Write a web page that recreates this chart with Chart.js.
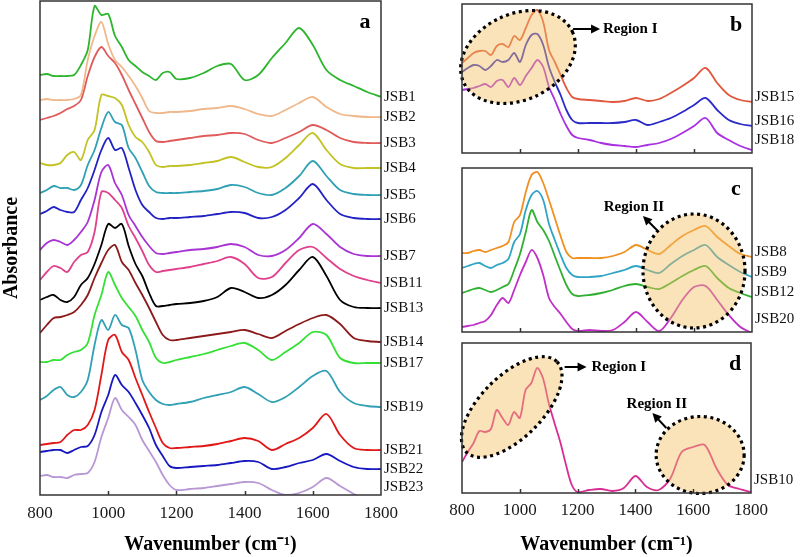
<!DOCTYPE html>
<html>
<head>
<meta charset="utf-8">
<script src="https://cdn.jsdelivr.net/npm/chart.js@4.4.1/dist/chart.umd.min.js"></script>
<style>
  html, body { margin: 0; padding: 0; background: #fff; }
  #wrap { position: relative; width: 800px; height: 557px; }
  #wrap canvas { position: absolute; left: 0; top: 0; }
</style>
</head>
<body>
<div id="wrap">
  <canvas id="chartA" width="800" height="557"></canvas>
  <canvas id="chartB" width="800" height="557"></canvas>
  <canvas id="chartC" width="800" height="557"></canvas>
  <canvas id="chartD" width="800" height="557"></canvas>
</div>
<script>
// wavenumber grid (cm-1) shared by all spectra
const wavenumbers = [800, 820, 840, 860, 880, 900, 920, 940, 960, 980, 1000, 1020, 1040, 1060, 1080, 1100, 1120, 1140, 1160, 1180, 1200,
  1240, 1280, 1320, 1360, 1400, 1440, 1480, 1520, 1560, 1600, 1640, 1680, 1720, 1760, 1800];
const xTicks = [800, 1000, 1200, 1400, 1600, 1800];

// panel a (stacked, arbitrary absorbance units)
const jsb1  = [42.0,42.1,41.9,41.9,41.9,42.0,43.0,44.5,48.9,48.0,48.1,45.9,44.8,43.5,42.9,42.3,41.9,41.5,42.2,42.3,41.6, 41.7,42.2,42.9,43.1,41.5,42.0,43.7,45.2,46.7,45.0,42.5,41.5,40.9,40.3,39.8];
const jsb2  = [39.5,39.6,39.5,39.5,39.5,39.6,40.0,43.5,45.9,47.3,45.1,43.5,42.8,41.9,40.9,39.7,38.4,38.2,38.2,38.3,38.3, 38.4,38.6,38.7,38.9,38.6,38.1,37.9,38.5,39.2,39.8,38.8,38.1,37.9,37.8,37.8];
const jsb3  = [37.5,37.7,37.9,38.2,38.6,38.9,39.5,41.9,43.8,44.8,43.9,43.2,42.0,40.5,39.1,37.7,36.3,35.4,35.3,35.4,35.5, 35.7,35.9,36.0,36.2,36.1,35.5,35.2,35.7,36.3,37.0,36.5,35.7,35.3,35.2,35.2];
const jsb4  = [33.2,33.0,33.0,33.2,34.0,34.3,33.5,35.5,36.5,40.0,39.9,39.7,39.0,37.0,35.8,35.3,34.3,33.0,32.8,32.9,32.9, 33.0,33.2,33.4,33.8,33.3,32.8,32.8,33.7,35.0,36.2,34.5,33.1,32.7,32.7,32.7];
const jsb5  = [30.2,30.5,30.9,30.7,30.7,30.5,31.0,33.0,34.5,36.7,38.3,37.3,37.0,34.7,33.7,32.3,30.9,30.3,30.2,30.2,30.2, 30.3,30.4,30.6,31.0,30.8,30.2,30.0,30.7,31.9,33.4,31.9,30.5,30.1,30.0,30.0];
const jsb6  = [28.1,28.4,28.8,28.5,28.3,28.3,29.5,30.7,32.5,34.5,35.7,34.5,34.7,32.7,30.5,29.0,28.3,27.7,27.6,27.7,27.7, 27.8,27.9,28.1,28.3,28.2,27.7,27.8,28.5,29.7,31.1,29.5,28.1,27.7,27.6,27.6];
const jsb7  = [24.5,25.2,25.5,25.3,25.0,25.5,26.3,27.3,29.5,32.3,33.0,31.2,30.0,28.0,26.9,25.8,24.9,24.2,24.1,24.2,24.3, 24.5,24.6,24.8,25.1,24.8,24.0,23.9,24.5,25.7,27.1,26.1,24.8,24.1,23.9,23.9];
const jsb11 = [21.5,22.3,22.9,22.7,22.3,23.3,24.0,24.3,26.3,30.3,30.2,29.5,28.7,26.9,25.7,24.4,23.0,22.3,22.4,22.5,22.6, 22.8,23.1,23.4,23.8,23.1,21.7,21.8,23.2,24.5,24.8,23.7,22.6,21.9,21.5,21.2];
const jsb13 = [19.5,19.8,20.0,19.5,19.3,19.8,21.0,21.7,23.1,25.0,27.1,26.7,27.1,24.9,23.1,21.9,20.2,18.9,18.9,19.0,19.1, 19.2,19.4,19.8,20.7,20.3,19.7,20.0,21.0,22.5,23.8,21.9,19.5,18.8,18.7,18.7];
const jsb14 = [16.2,17.0,17.7,17.8,18.0,18.3,19.0,20.0,21.7,23.2,24.5,25.0,23.3,22.5,21.2,20.0,18.7,17.3,16.0,15.5,15.5, 15.7,15.9,16.1,16.3,16.5,16.1,15.7,16.4,17.1,17.7,18.0,17.1,15.7,15.4,15.3];
const jsb17 = [13.3,13.3,13.5,13.5,14.0,14.3,14.5,15.2,18.0,20.0,22.3,21.0,19.7,18.8,17.9,16.5,15.3,13.7,13.2,13.3,13.5, 13.8,14.1,14.5,14.9,15.2,14.5,13.5,14.3,15.2,16.3,16.0,13.7,13.2,13.2,13.2];
const jsb19 = [9.5,9.9,10.5,10.8,10.0,9.8,10.3,11.5,15.0,17.5,16.5,18.0,17.0,16.7,14.5,11.5,10.3,9.5,9.1,9.0,9.1, 9.3,9.7,10.0,10.3,10.8,10.1,9.3,9.8,10.8,11.9,12.4,10.3,9.2,8.9,8.8];
const jsb21 = [5.0,5.1,5.2,5.3,6.0,6.5,6.5,7.0,8.5,12.0,15.5,16.0,14.3,13.5,11.7,10.0,8.3,6.7,5.2,4.7,4.7, 4.8,4.9,5.1,5.4,5.7,5.4,4.5,5.1,5.7,6.7,8.1,6.0,4.7,4.5,4.5];
const jsb22 = [4.3,4.4,4.5,4.5,4.2,4.5,4.8,4.9,6.0,8.3,10.0,12.0,11.0,10.3,9.2,8.0,6.7,5.0,3.9,2.9,2.7, 2.8,2.9,3.0,3.2,3.4,3.3,2.6,2.8,3.2,3.5,4.1,3.4,2.8,2.6,2.6];
const jsb23 = [1.9,2.0,1.8,1.8,1.7,2.0,2.1,2.2,3.3,5.8,7.7,9.7,8.5,7.8,7.0,5.5,4.4,3.3,2.0,1.0,0.5, 0.6,0.7,0.9,1.1,1.3,1.2,0.5,0.0,0.2,0.8,1.7,0.9,0.1,-0.5,-1.0];

// panel b
const jsb15 = [9.0,9.5,10.0,10.2,10.2,9.8,10.7,10.9,10.6,11.7,11.3,12.5,13.8,14.3,13.1,10.3,9.1,7.8,6.5,5.6,5.4, 5.3,5.2,5.1,5.2,5.5,5.2,5.4,6.0,6.7,7.5,8.5,7.0,5.8,5.3,5.1];
const jsb16 = [8.1,8.5,8.8,8.7,8.3,8.7,9.3,9.1,9.3,10.0,9.1,10.8,11.8,11.9,10.8,8.6,7.1,5.8,4.3,3.3,3.0, 3.0,3.0,3.0,3.1,3.3,2.8,3.1,3.5,4.1,4.8,5.5,4.3,3.3,2.9,2.7];
const jsb18 = [6.3,6.4,6.5,6.7,6.9,6.6,7.2,7.3,6.6,7.5,6.8,7.7,8.5,9.3,8.6,6.6,5.3,3.9,2.7,1.8,1.5, 1.3,1.0,0.8,0.7,0.6,0.8,1.0,1.4,2.0,2.7,3.5,2.0,1.3,0.7,0.3];

// panel c
const jsb8  = [7.9,7.9,8.1,8.2,8.0,8.2,8.4,8.6,9.0,11.0,11.7,14.0,15.7,16.0,14.9,13.2,11.4,9.6,8.0,7.4,7.4, 7.4,7.4,7.6,8.0,8.7,8.2,7.8,8.7,9.6,10.2,10.6,9.5,8.6,7.8,7.5];
const jsb9  = [6.4,6.6,6.8,6.9,6.6,6.4,6.7,6.9,7.3,9.0,9.8,12.2,13.7,14.1,13.2,10.8,9.2,7.7,6.4,5.7,5.5, 5.5,5.6,5.9,6.2,6.6,6.2,5.9,6.8,7.6,8.2,8.7,7.5,6.7,6.0,5.5];
const jsb12 = [3.9,4.1,4.3,4.4,4.2,4.0,4.2,4.5,4.8,6.2,7.8,10.0,12.2,11.0,10.2,9.1,7.6,6.1,4.7,3.8,3.6, 3.7,3.9,4.2,4.6,4.8,4.5,4.3,4.9,5.6,6.2,6.6,5.4,4.4,3.9,3.5];
const jsb20 = [0.5,0.6,0.7,0.9,1.1,1.7,2.7,3.4,2.9,4.2,5.7,7.0,8.2,7.4,5.7,3.4,2.5,1.8,1.0,0.3,0.1, 0.2,0.1,0.2,1.0,2.0,1.0,0.1,1.4,3.2,4.5,4.6,3.2,1.7,0.5,-0.1];

// panel d
const jsb10 = [3.1,4.1,5.0,6.2,6.1,6.4,8.3,7.5,6.8,8.1,7.5,10.3,11.0,12.5,11.5,9.0,7.0,5.1,2.8,0.8,0.1, 0.3,0.4,0.2,0.5,1.7,0.6,0.3,1.4,4.1,4.6,4.8,2.5,0.8,0.4,0.1];

const namesA = ["JSB1","JSB2","JSB3","JSB4","JSB5","JSB6","JSB7","JSB11","JSB13","JSB14","JSB17","JSB19","JSB21","JSB22","JSB23"];
const seriesA = [jsb1, jsb2, jsb3, jsb4, jsb5, jsb6, jsb7, jsb11, jsb13, jsb14, jsb17, jsb19, jsb21, jsb22, jsb23];
const colorsA = ["#2db52d","#f0b88a","#e05a5a","#c2c224","#30a0b4","#2222c4","#a834d4","#e0408c","#000000","#8c1a1a","#34e034","#30a0b4","#e01818","#1818c0","#b898d4"];

const namesB = ["JSB15","JSB16","JSB18"];
const seriesB = [jsb15, jsb16, jsb18];
const colorsB = ["#e0583e","#2a2ac8","#a830e0"];

const namesC = ["JSB8","JSB9","JSB12","JSB20"];
const seriesC = [jsb8, jsb9, jsb12, jsb20];
const colorsC = ["#f09020","#30a4c4","#30b030","#c030c8"];

const namesD = ["JSB10"];
const seriesD = [jsb10];
const colorsD = ["#d82c94"];

const SERIF = "'Liberation Serif', 'Times New Roman', serif";

function makeDatasets(names, series, colors) {
  return names.map((n, i) => ({
    label: n,
    data: wavenumbers.map((w, j) => ({ x: w, y: series[i][j] })),
    borderColor: colors[i],
    borderWidth: 1.8,
    pointRadius: 0,
    tension: 0.3,
    fill: false
  }));
}

function drawArrow(ctx, x1, y1, x2, y2) {
  const ang = Math.atan2(y2 - y1, x2 - x1);
  const hl = 9, hw = 4.5;
  ctx.beginPath();
  ctx.moveTo(x1, y1);
  ctx.lineTo(x2 - hl * 0.7 * Math.cos(ang), y2 - hl * 0.7 * Math.sin(ang));
  ctx.lineWidth = 2;
  ctx.stroke();
  ctx.beginPath();
  ctx.moveTo(x2, y2);
  ctx.lineTo(x2 - hl * Math.cos(ang) + hw * Math.sin(ang), y2 - hl * Math.sin(ang) - hw * Math.cos(ang));
  ctx.lineTo(x2 - hl * Math.cos(ang) - hw * Math.sin(ang), y2 - hl * Math.sin(ang) + hw * Math.cos(ang));
  ctx.closePath();
  ctx.fill();
}

// frame, inward ticks, series labels, highlighted regions
function decor(cfg) {
  return {
    id: "decor",
    afterDatasetsDraw(chart) {
      const { ctx, scales: { x, y } } = chart;
      ctx.save();
      (cfg.ellipses || []).forEach(e => {
        ctx.beginPath();
        ctx.ellipse(x.getPixelForValue(e.x), y.getPixelForValue(e.y), e.rx, e.ry, e.rot * Math.PI / 180, 0, Math.PI * 2);
        ctx.fillStyle = "rgba(245,190,100,0.45)";
        ctx.fill();
        ctx.setLineDash([3, 3.6]);
        ctx.lineWidth = 3.2;
        ctx.strokeStyle = "#000";
        ctx.stroke();
        ctx.setLineDash([]);
      });
      ctx.fillStyle = "#000";
      ctx.strokeStyle = "#000";
      (cfg.arrows || []).forEach(r => {
        drawArrow(ctx, x.getPixelForValue(r.x1), y.getPixelForValue(r.y1), x.getPixelForValue(r.x2), y.getPixelForValue(r.y2));
      });
      ctx.font = "bold 15px " + SERIF;
      ctx.textBaseline = "middle";
      (cfg.notes || []).forEach(t => {
        ctx.textAlign = t.align;
        ctx.fillText(t.text, x.getPixelForValue(t.x), y.getPixelForValue(t.y));
      });
      ctx.restore();
    },
    afterDraw(chart) {
      const { ctx, chartArea: a, scales: { x, y } } = chart;
      ctx.save();
      ctx.strokeStyle = "#333";
      ctx.lineWidth = 1.5;
      ctx.strokeRect(a.left, a.top, a.right - a.left, a.bottom - a.top);
      xTicks.slice(1, -1).forEach(v => {
        const px = Math.round(x.getPixelForValue(v)) + 0.5;
        ctx.beginPath();
        ctx.moveTo(px, a.bottom);
        ctx.lineTo(px, a.bottom - 4);
        ctx.stroke();
      });
      // panel letter
      ctx.fillStyle = "#000";
      ctx.font = "bold 22px " + SERIF;
      ctx.textAlign = "center";
      ctx.textBaseline = "middle";
      ctx.fillText(cfg.letter, a.right - 16, a.top + 21);
      // series names at the right end of each curve
      ctx.font = "15px " + SERIF;
      ctx.textAlign = "left";
      ctx.fillStyle = "#111";
      chart.data.datasets.forEach(ds => {
        const last = ds.data[ds.data.length - 1].y;
        const py = Math.min(y.getPixelForValue(last), a.bottom - 8) + cfg.labelShift;
        ctx.fillText(ds.label, a.right + 3, py);
      });
      ctx.restore();
    }
  };
}

function makeChart(id, names, series, colors, cfg) {
  const xTitle = { display: cfg.showX, text: "Wavenumber (cm\u207B\u00B9)", color: "#000",
    font: { family: SERIF, size: 20, weight: "bold" }, padding: { top: 0, bottom: 0 } };
  new Chart(document.getElementById(id), {
    type: "line",
    data: { datasets: makeDatasets(names, series, colors) },
    options: {
      responsive: false,
      animation: false,
      events: [],
      layout: { padding: cfg.padding },
      plugins: { legend: { display: false }, tooltip: { enabled: false } },
      scales: {
        x: {
          type: "linear", min: 800, max: 1800,
          display: cfg.showX,
          afterBuildTicks: s => { s.ticks = xTicks.map(v => ({ value: v })); },
          ticks: { color: "#1a1a1a", padding: cfg.tickPad, font: { family: SERIF, size: 17 },
            callback: v => String(v) },
          grid: { display: false, drawTicks: false },
          border: { display: false },
          title: xTitle,
          afterFit: s => { s.height = cfg.showX ? cfg.xHeight : 0; }
        },
        y: {
          min: 0, max: cfg.yMax,
          display: cfg.showY,
          ticks: { display: false },
          grid: { display: false, drawTicks: false },
          border: { display: false },
          title: { display: cfg.showY, text: "Absorbance", color: "#000",
            font: { family: SERIF, size: 20, weight: "bold" }, padding: { top: 0, bottom: 0 } },
          afterFit: s => { s.width = cfg.showY ? 40 : 0; }
        }
      }
    },
    plugins: [decor(cfg)]
  });
}

makeChart("chartA", namesA, seriesA, colorsA, {
  padding: { left: 0, top: 1, right: 419, bottom: 0 },
  showX: true, showY: true, xHeight: 62, tickPad: 8, yMax: 49.4,
  letter: "a", labelShift: 0
});

makeChart("chartB", namesB, seriesB, colorsB, {
  padding: { left: 462, top: 4, right: 48, bottom: 404 },
  showX: false, showY: false, xHeight: 0, tickPad: 0, yMax: 14.9,
  letter: "b", labelShift: -5,
  ellipses: [{ x: 993, y: 9.6, rx: 60, ry: 43, rot: -25 }],
  arrows: [{ x1: 1183, y1: 12.4, x2: 1276, y2: 12.4 }],
  notes: [{ x: 1286, y: 12.4, text: "Region I", align: "left" }]
});

makeChart("chartC", namesC, seriesC, colorsC, {
  padding: { left: 462, top: 168, right: 48, bottom: 225 },
  showX: false, showY: false, xHeight: 0, tickPad: 0, yMax: 16.4,
  letter: "c", labelShift: -5,
  ellipses: [{ x: 1600, y: 6.1, rx: 51, ry: 57, rot: 0 }],
  arrows: [{ x1: 1472, y1: 10.2, x2: 1424, y2: 11.6 }],
  notes: [{ x: 1393, y: 12.5, text: "Region II", align: "center" }]
});

makeChart("chartD", namesD, seriesD, colorsD, {
  padding: { left: 462, top: 343, right: 49, bottom: 0 },
  showX: true, showY: false, xHeight: 64, tickPad: 7, yMax: 15.0,
  letter: "d", labelShift: -5,
  ellipses: [{ x: 972, y: 8.6, rx: 64, ry: 31, rot: -45 }, { x: 1624, y: 3.8, rx: 44, ry: 38.5, rot: 0 }],
  arrows: [{ x1: 1155, y1: 12.6, x2: 1231, y2: 12.6 }, { x1: 1507, y1: 6.5, x2: 1459, y2: 8.0 }],
  notes: [{ x: 1248, y: 12.6, text: "Region I", align: "left" }, { x: 1474, y: 8.9, text: "Region II", align: "center" }]
});
</script>
</body>
</html>
